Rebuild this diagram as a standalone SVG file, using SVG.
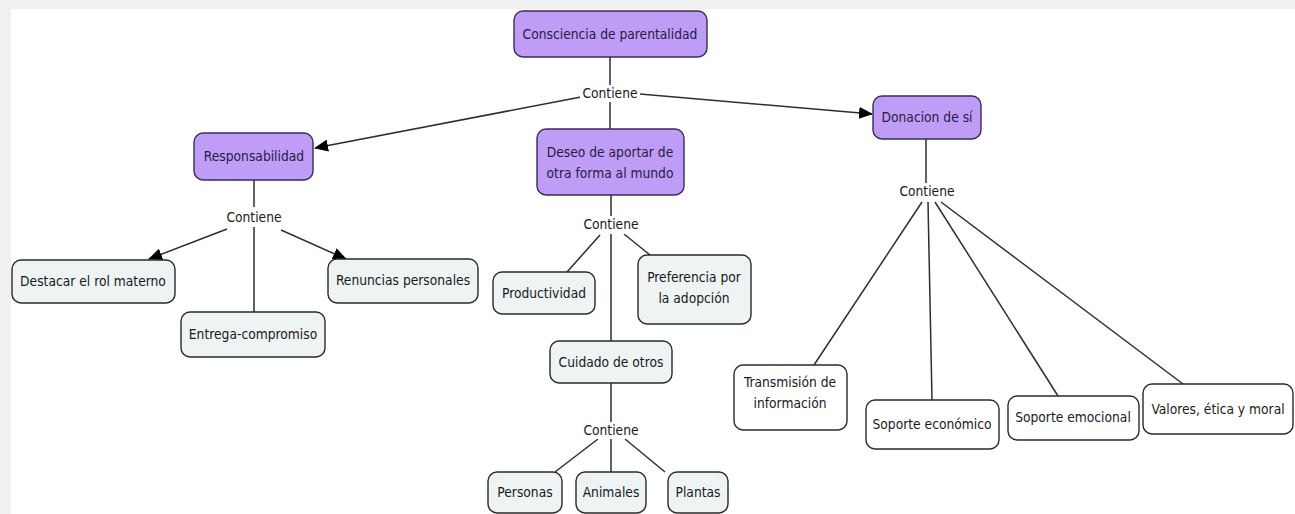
<svg xmlns="http://www.w3.org/2000/svg" width="1295" height="514" viewBox="0 0 1295 514">
<defs>
<marker id="arr" markerUnits="userSpaceOnUse" markerWidth="14" markerHeight="12" refX="13" refY="6" orient="auto">
<path d="M0,0 L14,6 L0,12 z" fill="#000"/>
</marker>
<style>
text{font-family:"DejaVu Sans Condensed","DejaVu Sans","Liberation Sans",sans-serif;font-stretch:condensed;font-size:13.7px;text-anchor:middle;fill:#1a1a1a}
.p rect{fill:#bf9cf6;stroke:#3a2b58;stroke-width:1.4}
.p text{fill:#251c44}
.l rect{fill:#eef3f4;stroke:#2a2a2a;stroke-width:1.4}
.w rect{fill:#fff;stroke:#2a2a2a;stroke-width:1.4}
.c line{stroke:#2e2e2e;stroke-width:1.5}
.lbl text{fill:#1a1a1a}
</style>
</defs>
<rect x="0" y="0" width="1295" height="514" fill="#f0f0f0"/>
<rect x="11" y="9" width="1284" height="505" fill="#fff"/>

<g id="connectors" class="c">
<line x1="610" y1="57" x2="610" y2="86"/>
<line x1="610" y1="102" x2="610" y2="129"/>
<line x1="581" y1="97" x2="315" y2="148" marker-end="url(#arr)"/>
<line x1="640" y1="94" x2="872" y2="114" marker-end="url(#arr)"/>
<line x1="254" y1="180" x2="254" y2="207"/>
<line x1="254" y1="227" x2="254" y2="312"/>
<line x1="227" y1="229" x2="149" y2="259" marker-end="url(#arr)"/>
<line x1="281" y1="230" x2="346" y2="259" marker-end="url(#arr)"/>
<line x1="611" y1="195" x2="611" y2="216"/>
<line x1="611" y1="234" x2="611" y2="341"/>
<line x1="600" y1="235" x2="567" y2="272"/>
<line x1="624" y1="234" x2="650" y2="255"/>
<line x1="611" y1="383" x2="611" y2="422"/>
<line x1="611" y1="439" x2="611" y2="472"/>
<line x1="598" y1="439" x2="555" y2="472"/>
<line x1="625" y1="439" x2="665" y2="472"/>
<line x1="926" y1="139" x2="926" y2="183"/>
<line x1="922" y1="202" x2="814" y2="365"/>
<line x1="928" y1="202" x2="932" y2="400"/>
<line x1="935" y1="202" x2="1058" y2="396"/>
<line x1="941" y1="202" x2="1183" y2="384"/>
</g>

<g id="lbl-contiene-1" class="lbl"><rect x="580" y="85" width="60" height="17" fill="#fff"/><text x="610" y="98">Contiene</text></g>
<g id="lbl-contiene-2" class="lbl"><rect x="225" y="207" width="58" height="19" fill="#fff"/><text x="254" y="222">Contiene</text></g>
<g id="lbl-contiene-3" class="lbl"><rect x="582" y="216" width="58" height="18" fill="#fff"/><text x="611" y="229">Contiene</text></g>
<g id="lbl-contiene-4" class="lbl"><rect x="582" y="422" width="58" height="17" fill="#fff"/><text x="611" y="435">Contiene</text></g>
<g id="lbl-contiene-5" class="lbl"><rect x="898" y="183" width="58" height="18" fill="#fff"/><text x="927" y="196">Contiene</text></g>

<g id="n-consciencia" class="p"><rect x="514" y="11" width="193" height="46" rx="9"/><text x="610" y="39">Consciencia de parentalidad</text></g>
<g id="n-responsabilidad" class="p"><rect x="194" y="133" width="119" height="47" rx="9"/><text x="254" y="161">Responsabilidad</text></g>
<g id="n-deseo" class="p"><rect x="537" y="129" width="147" height="66" rx="9"/><text x="610" y="157">Deseo de aportar de</text><text x="610" y="178">otra forma al mundo</text></g>
<g id="n-donacion" class="p"><rect x="873" y="96" width="108" height="43" rx="9"/><text x="927" y="122">Donacion de sí</text></g>

<g id="n-destacar" class="l"><rect x="12" y="260" width="163" height="43" rx="9"/><text x="93" y="286">Destacar el rol materno</text></g>
<g id="n-renuncias" class="l"><rect x="328" y="259" width="150" height="44" rx="9"/><text x="403" y="285">Renuncias personales</text></g>
<g id="n-entrega" class="l"><rect x="181" y="312" width="144" height="45" rx="9"/><text x="253" y="339">Entrega-compromiso</text></g>
<g id="n-productividad" class="l"><rect x="493" y="272" width="102" height="42" rx="9"/><text x="544" y="298">Productividad</text></g>
<g id="n-preferencia" class="l"><rect x="638" y="255" width="113" height="69" rx="9"/><text x="694" y="282">Preferencia por</text><text x="694" y="303">la adopción</text></g>
<g id="n-cuidado" class="l"><rect x="550" y="341" width="122" height="42" rx="9"/><text x="611" y="367">Cuidado de otros</text></g>
<g id="n-personas" class="l"><rect x="488" y="472" width="74" height="41" rx="9"/><text x="525" y="497">Personas</text></g>
<g id="n-animales" class="l"><rect x="576" y="472" width="70" height="41" rx="9"/><text x="611" y="497">Animales</text></g>
<g id="n-plantas" class="l"><rect x="668" y="472" width="60" height="41" rx="9"/><text x="698" y="497">Plantas</text></g>

<g id="n-transmision" class="w"><rect x="734" y="365" width="113" height="65" rx="9"/><text x="790" y="387">Transmisión de</text><text x="790" y="408">información</text></g>
<g id="n-economico" class="w"><rect x="866" y="400" width="133" height="49" rx="9"/><text x="932" y="429">Soporte económico</text></g>
<g id="n-emocional" class="w"><rect x="1008" y="396" width="131" height="44" rx="9"/><text x="1073" y="422">Soporte emocional</text></g>
<g id="n-valores" class="w"><rect x="1143" y="384" width="150" height="50" rx="9"/><text x="1218" y="414">Valores, ética y moral</text></g>
</svg>
